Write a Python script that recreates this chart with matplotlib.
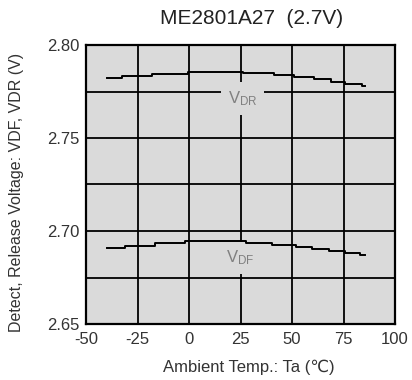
import matplotlib
matplotlib.use("Agg")
import matplotlib.pyplot as plt

plt.rcParams['font.family'] = ['Liberation Sans', 'DejaVu Sans']
plt.rcParams['mathtext.fontset'] = 'custom'
plt.rcParams['mathtext.rm'] = 'Liberation Sans'
plt.rcParams['mathtext.default'] = 'regular'
plt.rcParams['axes.unicode_minus'] = False

title = "ME2801A27  (2.7V)"
xlabel = "Ambient Temp.: Ta (℃)"
ylabel = "Detect, Release Voltage: VDF, VDR (V)"

xticks = [-50, -25, 0, 25, 50, 75, 100]
yticks = [2.65, 2.70, 2.75, 2.80]
ytick_labels = ["2.65", "2.70", "2.75", "2.80"]

vdr_temp = [-40, -32.6, -18.2, -0.5, 26.1, 41.3, 51, 60.6, 68.7, 75.9, 84, 85.5]
vdr_vals = [2.7824, 2.7835, 2.7846, 2.7857, 2.7848, 2.7837, 2.7826, 2.7816, 2.7803, 2.7792, 2.7780, 2.7780]

vdf_temp = [-40, -31.0, -16.6, -2.1, 27.7, 40.5, 51.8, 59.8, 67.9, 75.9, 83.1, 85.5]
vdf_vals = [2.6910, 2.6921, 2.6934, 2.6946, 2.6935, 2.6925, 2.6912, 2.6902, 2.6891, 2.6880, 2.6871, 2.6871]

bg = '#dadada'
fig = plt.figure(figsize=(4.12, 3.80), dpi=100)
ax = fig.add_axes([86/412, 1-324/380, 309/412, 279/380])
ax.set_facecolor(bg)
ax.set_xlim(-50, 100)
ax.set_ylim(2.65, 2.80)
ax.set_xticks(xticks)
ax.set_yticks(yticks)
ax.set_yticklabels(ytick_labels)
ax.set_yticks([2.675, 2.725, 2.775], minor=True)
ax.grid(True, which='both', color='black', linewidth=1.3)
ax.set_axisbelow(True)
ax.tick_params(which='both', length=0, labelsize=12, colors='#333333')
ax.tick_params(axis='y', pad=5)
ax.tick_params(axis='x', pad=6)
for s in ax.spines.values():
    s.set_linewidth(1.6)
    s.set_color('black')

ax.plot(vdr_temp, vdr_vals, color='black', lw=1.4, drawstyle='steps-post', zorder=3)
ax.plot(vdf_temp, vdf_vals, color='black', lw=1.4, drawstyle='steps-post', zorder=3)

box = dict(facecolor=bg, edgecolor='none', pad=5)
ax.text(26, 2.7712, r'V$_{\mathrm{DR}}$', ha='center', va='center', fontsize=12,
        color='#808080', bbox=box, zorder=2.5)
ax.text(25, 2.6855, r'V$_{\mathrm{DF}}$', ha='center', va='center', fontsize=12,
        color='#808080', bbox=box, zorder=2.5)

fig.text(252/412, 1-18/380, title, ha='center', va='center', fontsize=15, color='#222222')
ax.set_xlabel(xlabel, fontsize=12, color='#333333')
ax.xaxis.set_label_coords((249-86)/309, -(360-324)/279)
fig.text(17/412, 1-192/380, ylabel, rotation=90, ha='center', va='center',
         fontsize=11.5, color='#333333')

fig.savefig('out.png', dpi=100, facecolor='white')
